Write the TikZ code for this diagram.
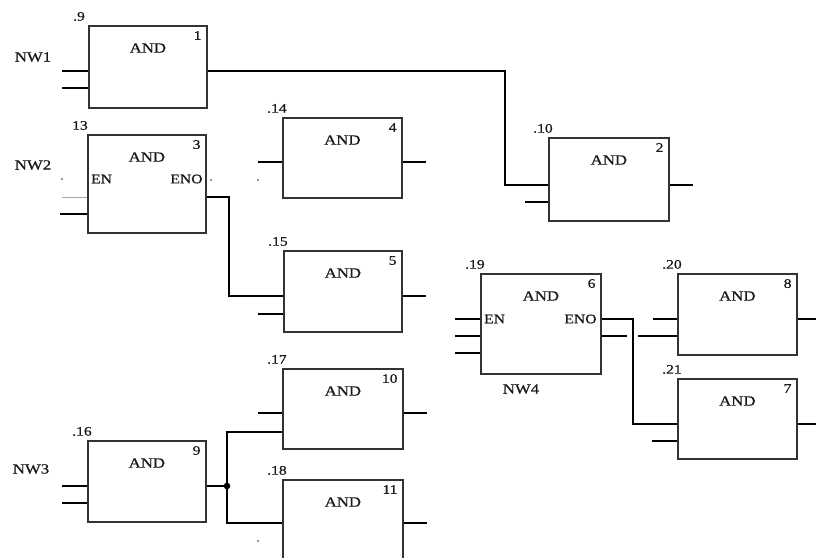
\documentclass[tikz,border=0pt]{standalone}
\usepackage{fontspec}
\setmainfont{Liberation Serif}[FakeStretch=1.2,FakeBold=0.8]
\begin{document}
\begin{tikzpicture}[x=1pt,y=-1pt,
  andbox/.style={draw=black!80,line width=1.7pt,anchor=north west,inner sep=0pt},
  wire/.style={draw=black,line width=1.3pt},
  thinwire/.style={draw=black!35,line width=0.8pt},
  gname/.style={font=\fontsize{14}{14}\selectfont,text=black!90,inner sep=0pt},
  num/.style={font=\fontsize{13}{13}\selectfont,text=black!90,inner sep=0pt,anchor=north east},
  tag/.style={font=\fontsize{13}{13}\selectfont,text=black!90,inner sep=0pt,anchor=south west},
  pin/.style={font=\fontsize{13}{13}\selectfont,text=black!90,inner sep=0pt},
  nw/.style={font=\fontsize{14}{14}\selectfont,text=black!90,inner sep=0pt},
  speck/.style={fill=black!80,inner sep=0pt,minimum size=1.8pt,circle}]
\useasboundingbox (0,0) rectangle (816,557);
% boxes
\node[andbox,minimum width=118pt,minimum height=82pt] (b1) at (88,25) {};
\node[andbox,minimum width=120pt,minimum height=83pt] (b2) at (548,137) {};
\node[andbox,minimum width=118pt,minimum height=98pt] (b3) at (87,134) {};
\node[andbox,minimum width=119pt,minimum height=80pt] (b4) at (282,117) {};
\node[andbox,minimum width=118pt,minimum height=81pt] (b5) at (283,250) {};
\node[andbox,minimum width=120pt,minimum height=100pt] (b6) at (480,273) {};
\node[andbox,minimum width=119pt,minimum height=81pt] (b8) at (677,273) {};
\node[andbox,minimum width=119pt,minimum height=80pt] (b7) at (677,378) {};
\node[andbox,minimum width=118pt,minimum height=81pt] (b9) at (87,440) {};
\node[andbox,minimum width=120pt,minimum height=80pt] (b10) at (282,368) {};
\node[andbox,minimum width=120pt,minimum height=95pt] (b11) at (282,479) {};
% texts
\foreach \b/\n/\t in {b1/1/.9, b2/2/.10, b3/3/13, b4/4/.14, b5/5/.15, b6/6/.19, b8/8/.20, b7/7/.21, b9/9/.16, b10/10/.17, b11/11/.18}{
  \node[gname] (\b and) at ([yshift=-23pt]\b.north) {AND};
  \node[num] (\b num) at ([xshift=-6pt,yshift=-6pt]\b.north east) {\n};
  \node[tag] (\b tag) at ([xshift=-15pt,yshift=4pt]\b.north west) {\t};
}
\node[pin,anchor=west] (b3en) at ([xshift=4pt,yshift=-45pt]b3.north west) {EN};
\node[pin,anchor=east] (b3eno) at ([xshift=-4pt,yshift=-45pt]b3.north east) {ENO};
\node[pin,anchor=west] (b6en) at ([xshift=4pt,yshift=-46pt]b6.north west) {EN};
\node[pin,anchor=east] (b6eno) at ([xshift=-5pt,yshift=-46pt]b6.north east) {ENO};
\node[nw] (nw1) at (33,57) {NW1};
\node[nw] (nw2) at (33,165) {NW2};
\node[nw] (nw3) at (31,469) {NW3};
\node[nw] (nw4) at (521,389) {NW4};
% pin coordinates
\coordinate (c1a) at (62,71);   \coordinate (c1b) at (62,88);
\coordinate (k1) at (505,71);   \coordinate (k2) at (505,185);
\coordinate (c2b) at (525,202); \coordinate (c2o) at (693,185);
\coordinate (c3a) at (62,197);  \coordinate (c3b) at (60,214);
\coordinate (k3) at (229,197);  \coordinate (k4) at (229,296);
\coordinate (c4a) at (258,162); \coordinate (c4o) at (426,162);
\coordinate (c5b) at (258,314); \coordinate (c5o) at (426,296);
\coordinate (c6a) at (455,319); \coordinate (c6b) at (455,336); \coordinate (c6c) at (455,353);
\coordinate (k5) at (633,319);  \coordinate (k6) at (633,424);
\coordinate (c6o) at (627,336);
\coordinate (c8a) at (653,319); \coordinate (c8b) at (638,336); \coordinate (c8o) at (816,319);
\coordinate (c7b) at (652,441); \coordinate (c7o) at (816,424);
\coordinate (c9a) at (62,486);  \coordinate (c9b) at (62,503);
\coordinate (j) at (227,486);   \coordinate (k7) at (227,432); \coordinate (k8) at (227,523);
\coordinate (c10a) at (258,413); \coordinate (c10o) at (427,413);
\coordinate (c11o) at (427,523);
% wires
\draw[wire] (c1a) -- (c1a -| b1.west);
\draw[wire] (c1b) -- (c1b -| b1.west);
\draw[wire] (c1a -| b1.east) -- (k1) -- (k2) -- (k2 -| b2.west);
\draw[wire] (c2b) -- (c2b -| b2.west);
\draw[wire] (c2o -| b2.east) -- (c2o);
\draw[thinwire] (c3a) -- (c3a -| b3.west);
\draw[wire] (c3b) -- (c3b -| b3.west);
\draw[wire] (k3 -| b3.east) -- (k3) -- (k4) -- (k4 -| b5.west);
\draw[wire] (c4a) -- (c4a -| b4.west);
\draw[wire] (c4o -| b4.east) -- (c4o);
\draw[wire] (c5b) -- (c5b -| b5.west);
\draw[wire] (c5o -| b5.east) -- (c5o);
\draw[wire] (c6a) -- (c6a -| b6.west);
\draw[wire] (c6b) -- (c6b -| b6.west);
\draw[wire] (c6c) -- (c6c -| b6.west);
\draw[wire] (k5 -| b6.east) -- (k5) -- (k6) -- (k6 -| b7.west);
\draw[wire] (c6o -| b6.east) -- (c6o);
\draw[wire] (c8a) -- (c8a -| b8.west);
\draw[wire] (c8b) -- (c8b -| b8.west);
\draw[wire] (c8o -| b8.east) -- (c8o);
\draw[wire] (c7b) -- (c7b -| b7.west);
\draw[wire] (c7o -| b7.east) -- (c7o);
\draw[wire] (c9a) -- (c9a -| b9.west);
\draw[wire] (c9b) -- (c9b -| b9.west);
\draw[wire] (j -| b9.east) -- (j);
\draw[wire] (k7 -| b10.west) -- (k7) -- (k8) -- (k8 -| b11.west);
\draw[wire] (c10a) -- (c10a -| b10.west);
\draw[wire] (c10o -| b10.east) -- (c10o);
\draw[wire] (c11o -| b11.east) -- (c11o);
\fill[black] (j) circle (3.3pt);
% stray specks
\node[speck] (s1) at (62,179) {};
\node[speck] (s2) at (211,180) {};
\node[speck] (s3) at (258,180) {};
\node[speck] (s4) at (258,541) {};
\end{tikzpicture}
\end{document}
